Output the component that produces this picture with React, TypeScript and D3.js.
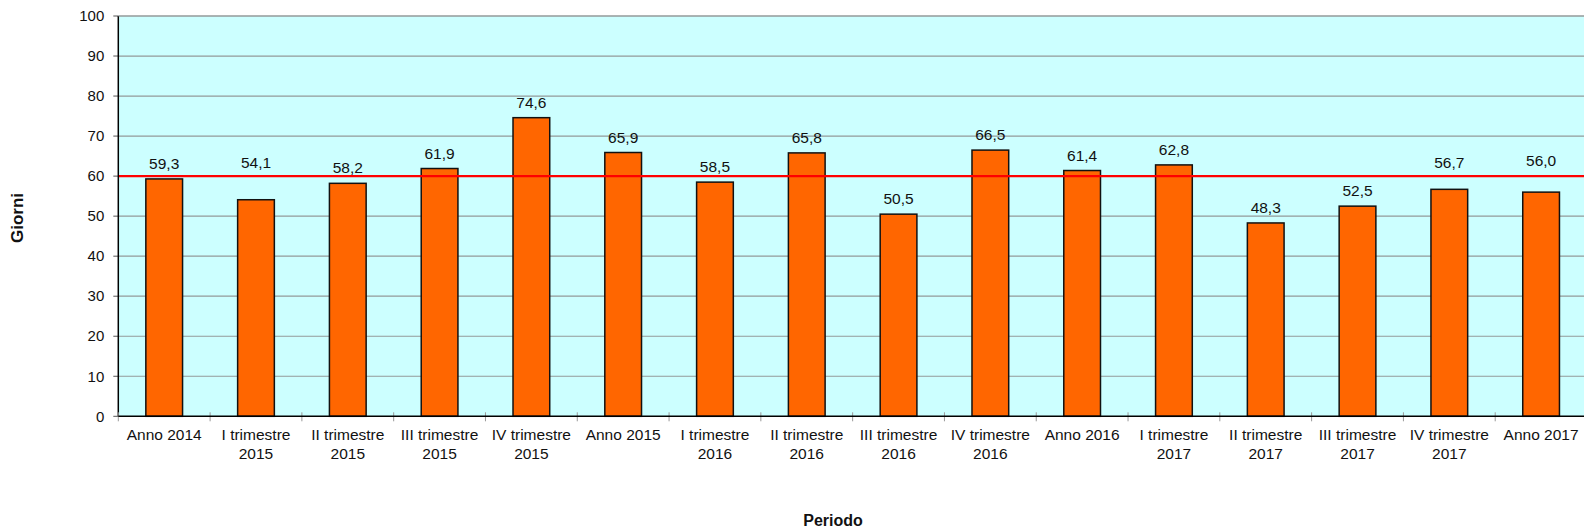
import React, { useEffect, useRef } from "react";
import * as d3 from "d3";

const categories: string[][] = [
  ["Anno 2014"],
  ["I trimestre", "2015"],
  ["II trimestre", "2015"],
  ["III trimestre", "2015"],
  ["IV trimestre", "2015"],
  ["Anno 2015"],
  ["I trimestre", "2016"],
  ["II trimestre", "2016"],
  ["III trimestre", "2016"],
  ["IV trimestre", "2016"],
  ["Anno 2016"],
  ["I trimestre", "2017"],
  ["II trimestre", "2017"],
  ["III trimestre", "2017"],
  ["IV trimestre", "2017"],
  ["Anno 2017"],
];

const giorni: number[] = [
  59.3, 54.1, 58.2, 61.9, 74.6, 65.9, 58.5, 65.8, 50.5, 66.5, 61.4, 62.8, 48.3,
  52.5, 56.7, 56.0,
];

const yTicks: number[] = [0, 10, 20, 30, 40, 50, 60, 70, 80, 90, 100];
const soglia = 60;

// some labels sit higher than the default spot (px)
const labelLift: number[] = [0, 22, 0, 0, 0, 0, 0, 0, 0, 0, 0, 0, 0, 0, 11, 16];

export default function App() {
  const ref = useRef<SVGSVGElement>(null);

  useEffect(() => {
    const width = 1584;
    const height = 529;
    const left = 118.3;
    const right = 1587;
    const top = 16;
    const bottom = 416.3;
    const font = "Liberation Sans, Arial, sans-serif";

    const svg = d3.select(ref.current);
    svg.selectAll("*").remove();
    svg.attr("width", width).attr("height", height);

    const x = d3
      .scaleBand<number>()
      .domain(d3.range(categories.length))
      .range([left, right])
      .padding(0);
    const y = d3.scaleLinear().domain([0, 100]).range([bottom, top]);
    const bw = x.bandwidth();

    svg
      .append("rect")
      .attr("x", left)
      .attr("y", top)
      .attr("width", right - left)
      .attr("height", bottom - top)
      .attr("fill", "#ccffff");

    // gridlines
    svg
      .append("g")
      .selectAll("line")
      .data(yTicks.filter((t) => t > 0))
      .enter()
      .append("line")
      .attr("x1", left)
      .attr("x2", right)
      .attr("y1", (d) => y(d))
      .attr("y2", (d) => y(d))
      .attr("stroke", "#939a9a")
      .attr("stroke-width", 1.2);

    // y ticks + labels
    const yg = svg.append("g");
    yg.selectAll("line")
      .data(yTicks)
      .enter()
      .append("line")
      .attr("x1", left - 5)
      .attr("x2", left)
      .attr("y1", (d) => y(d))
      .attr("y2", (d) => y(d))
      .attr("stroke", "#555");
    yg.selectAll("text")
      .data(yTicks)
      .enter()
      .append("text")
      .attr("x", left - 14)
      .attr("y", (d) => y(d))
      .attr("dy", "0.35em")
      .attr("text-anchor", "end")
      .attr("font-family", font)
      .attr("font-size", 15)
      .attr("fill", "#111")
      .text((d) => d);

    // bars
    svg
      .append("g")
      .selectAll("rect")
      .data(giorni)
      .enter()
      .append("rect")
      .attr("x", (_, i) => x(i)! + bw * 0.3)
      .attr("y", (d) => y(d))
      .attr("width", bw * 0.4)
      .attr("height", (d) => bottom - y(d))
      .attr("fill", "#ff6600")
      .attr("stroke", "#111")
      .attr("stroke-width", 1.5);

    // threshold
    svg
      .append("line")
      .attr("x1", left)
      .attr("x2", right)
      .attr("y1", y(soglia))
      .attr("y2", y(soglia))
      .attr("stroke", "#ff0000")
      .attr("stroke-width", 2.4);

    // value labels
    svg
      .append("g")
      .selectAll("text")
      .data(giorni)
      .enter()
      .append("text")
      .attr("x", (_, i) => x(i)! + bw / 2)
      .attr("y", (d, i) => y(d) - 10 - labelLift[i])
      .attr("text-anchor", "middle")
      .attr("font-family", font)
      .attr("font-size", 15.5)
      .attr("fill", "#111")
      .text((d) => d.toFixed(1).replace(".", ","));

    // axes lines
    svg
      .append("line")
      .attr("x1", left)
      .attr("x2", left)
      .attr("y1", top)
      .attr("y2", bottom)
      .attr("stroke", "#000")
      .attr("stroke-width", 1.5);
    svg
      .append("line")
      .attr("x1", left)
      .attr("x2", right)
      .attr("y1", top)
      .attr("y2", top)
      .attr("stroke", "#939a9a")
      .attr("stroke-width", 1.2);

    // x ticks
    svg
      .append("g")
      .selectAll("line")
      .data(d3.range(categories.length))
      .enter()
      .append("line")
      .attr("x1", (i) => x(i)!)
      .attr("x2", (i) => x(i)!)
      .attr("y1", bottom - 4)
      .attr("y2", bottom + 5)
      .attr("stroke", "#999");

    svg
      .append("line")
      .attr("x1", left)
      .attr("x2", right)
      .attr("y1", bottom)
      .attr("y2", bottom)
      .attr("stroke", "#000")
      .attr("stroke-width", 1.5);

    // category labels
    const cg = svg
      .append("g")
      .selectAll("text")
      .data(categories)
      .enter()
      .append("text")
      .attr("x", (_, i) => x(i)! + bw / 2)
      .attr("y", 440)
      .attr("text-anchor", "middle")
      .attr("font-family", font)
      .attr("font-size", 15.5)
      .attr("fill", "#111");
    cg.selectAll("tspan")
      .data((d) => d)
      .enter()
      .append("tspan")
      .attr("x", function () {
        return (this as any).parentNode.getAttribute("x");
      })
      .attr("dy", (_, j) => (j === 0 ? 0 : 19))
      .text((d) => d);

    // axis titles
    svg
      .append("text")
      .attr("transform", `translate(23,218) rotate(-90)`)
      .attr("text-anchor", "middle")
      .attr("font-family", font)
      .attr("font-size", 17)
      .attr("font-weight", "bold")
      .attr("fill", "#111")
      .text("Giorni");
    svg
      .append("text")
      .attr("x", 833)
      .attr("y", 526)
      .attr("text-anchor", "middle")
      .attr("font-family", font)
      .attr("font-size", 16)
      .attr("font-weight", "bold")
      .attr("fill", "#111")
      .text("Periodo");
  }, []);

  return (
    <svg
      ref={ref}
      style={{ position: "absolute", left: 0, top: 0, display: "block", background: "#fff" }}
    />
  );
}
